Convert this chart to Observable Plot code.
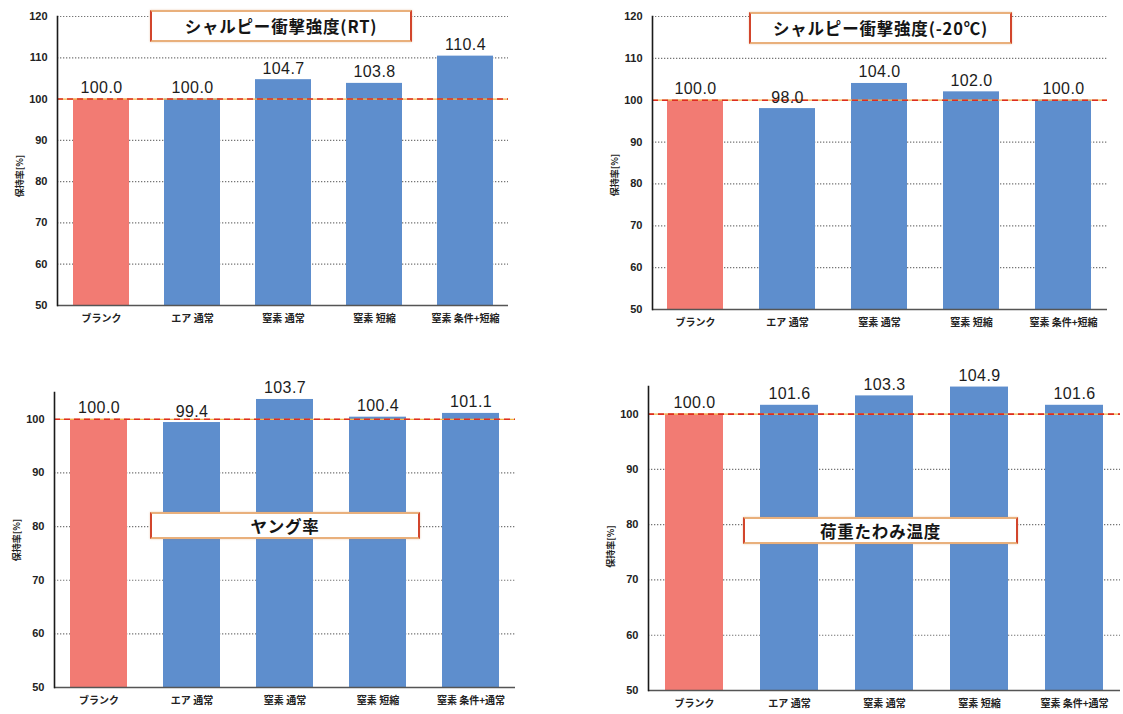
<!DOCTYPE html>
<html>
<head>
<meta charset="utf-8">
<script src="https://cdn.jsdelivr.net/npm/d3@7"></script>
<script src="https://cdn.jsdelivr.net/npm/@observablehq/plot@0.6"></script>
<style>
  html, body { margin: 0; padding: 0; background: #fff; }
  #board { position: relative; width: 1123px; height: 714px; overflow: hidden; background: #fff; }
  .panel { position: absolute; }
  .panel svg { display: block; overflow: visible; }
  .title-box {
    position: absolute; box-sizing: border-box; background: #fff;
    border: 2px solid #e9b07c; border-left-color: #d2452c; border-right-color: #d2452c;
    display: flex; align-items: center; justify-content: center;
    font-family: "Noto Sans CJK JP", "Liberation Sans", sans-serif;
    font-weight: bold; font-size: 16.5px; letter-spacing: 0.8px; color: #151515;
    box-shadow: 0 0 2px rgba(200,120,60,0.35);
  }
</style>
</head>
<body>
<div id="board"></div>
<script>
// Categories (x axis)
const categoriesTop = ["ブランク", "エア 通常", "窒素 通常", "窒素 短縮", "窒素 条件+短縮"];
const categoriesBottom = ["ブランク", "エア 通常", "窒素 通常", "窒素 短縮", "窒素 条件+通常"];

// Retention rates [%]
const charpyRT = [100.0, 100.0, 104.7, 103.8, 110.4];
const charpyMinus20 = [100.0, 98.0, 104.0, 102.0, 100.0];
const youngModulus = [100.0, 99.4, 103.7, 100.4, 101.1];
const deflectionTemp = [100.0, 101.6, 103.3, 104.9, 101.6];

// Titles and axis text
const titles = ["シャルピー衝撃強度(RT)", "シャルピー衝撃強度(-20℃)", "ヤング率", "荷重たわみ温度"];
const yLabel = "保持率[%]";
const baseline = 100;
const ticksTop = [50, 60, 70, 80, 90, 100, 110, 120];
const ticksBottom = [50, 60, 70, 80, 90, 100];

const RED = "#f27b73";
const BLUE = "#5e8ecd";
const FONT = "'Liberation Sans', 'Noto Sans CJK JP', sans-serif";

const board = document.getElementById("board");

function panel({cats, values, title, box, pos, size, margins, domain, ticks, labelDy}) {
  const data = cats.map((c, i) => ({cat: c, value: values[i]}));
  const grid = ticks.filter(t => t > domain[0] && t !== baseline);
  const chart = Plot.plot({
    width: size[0], height: size[1],
    marginLeft: margins[0], marginRight: margins[1], marginTop: margins[2], marginBottom: margins[3],
    style: {fontFamily: FONT, background: "transparent"},
    x: {domain: cats, paddingInner: 0.39, paddingOuter: 0.16, label: null},
    y: {domain, label: null},
    marks: [
      Plot.gridY(grid, {stroke: "#666", strokeOpacity: 0.9, strokeDasharray: "1.3,1.7", strokeWidth: 1.2}),
      Plot.barY(data, {x: "cat", y1: domain[0], y2: "value",
        fill: d => d.cat === cats[0] ? RED : BLUE}),
      Plot.ruleY([baseline], {stroke: "#f0b848", strokeWidth: 1.3}),
      Plot.ruleY([baseline], {stroke: "#de2c22", strokeWidth: 1.6, strokeDasharray: "6,4"}),
      Plot.ruleY([domain[0]], {stroke: "#555", strokeWidth: 1.3}),
      Plot.frame({anchor: "left", stroke: "#1a1a1a", strokeWidth: 1.6}),
      Plot.axisY({ticks, tickSize: 0, tickPadding: 10, fontSize: 11, fontWeight: "bold", fill: "#222",
        label: yLabel, labelAnchor: "center", labelOffset: 41, labelArrow: "none"}),
      Plot.axisX({tickSize: 0, tickPadding: 9, fontSize: 10, fontWeight: "bold", fill: "#222",
        fontFamily: "'Noto Sans CJK JP', sans-serif", label: null}),
      Plot.text(data, {x: "cat", y: "value", text: d => d.value.toFixed(1),
        lineAnchor: "bottom", dy: -6, fontSize: 16, fill: "#1c1c1c"})
    ]
  });
  // small vertical y-axis label, nudged to its printed position
  chart.querySelectorAll("g[aria-label='y-axis label']").forEach(g => {
    const t0 = g.getAttribute("transform") || "";
    g.setAttribute("transform", `${t0} translate(0,${labelDy})`);
    g.querySelectorAll("text").forEach(t => {
      t.setAttribute("font-size", "9");
      t.setAttribute("font-family", "'Noto Sans CJK JP', sans-serif");
    });
  });
  // slightly wider digit spacing for the value labels
  chart.querySelectorAll("g[aria-label='text'] text").forEach(t => t.setAttribute("letter-spacing", "0.4"));

  const holder = document.createElement("div");
  holder.className = "panel";
  holder.style.left = pos[0] + "px";
  holder.style.top = pos[1] + "px";
  holder.appendChild(chart);
  board.appendChild(holder);

  const tb = document.createElement("div");
  tb.className = "title-box";
  tb.textContent = title;
  tb.style.left = box[0] + "px"; tb.style.top = box[1] + "px";
  tb.style.width = box[2] + "px"; tb.style.height = box[3] + "px";
  board.appendChild(tb);
}

panel({cats: categoriesTop, values: charpyRT, title: titles[0],
  pos: [0, 0], size: [560, 335], margins: [57, 52, 16, 30], domain: [50, 120], ticks: ticksTop,
  box: [150, 10, 262, 32], labelDy: 15});
panel({cats: categoriesTop, values: charpyMinus20, title: titles[1],
  pos: [560, 0], size: [563, 338], margins: [92, 16, 16, 29], domain: [50, 120], ticks: ticksTop,
  box: [749, 12, 263, 32], labelDy: 12});
panel({cats: categoriesBottom, values: youngModulus, title: titles[2],
  pos: [0, 360], size: [560, 354], margins: [54, 45, 32, 27], domain: [50, 105], ticks: ticksBottom,
  box: [150, 512, 270, 27], labelDy: 0});
panel({cats: categoriesBottom, values: deflectionTemp, title: titles[3],
  pos: [560, 360], size: [563, 354], margins: [88, 3, 26, 24], domain: [50, 105], ticks: ticksBottom,
  box: [743, 517, 275, 27], labelDy: 8});
</script>
</body>
</html>
